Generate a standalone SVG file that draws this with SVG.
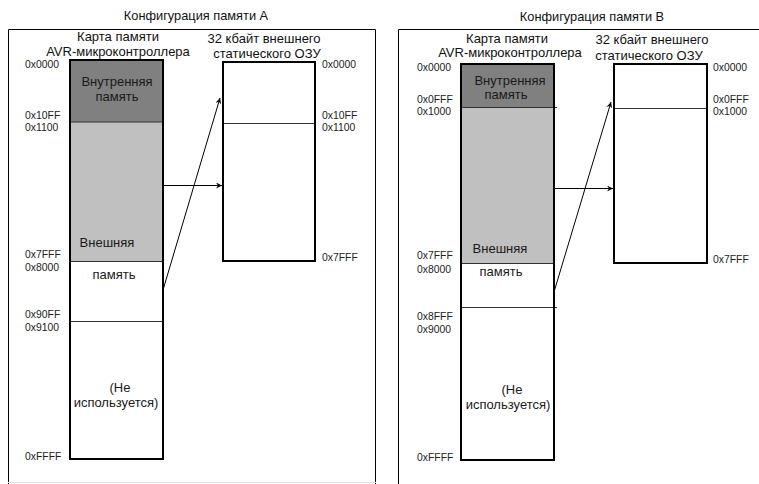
<svg xmlns="http://www.w3.org/2000/svg" width="759" height="484" viewBox="0 0 759 484">
<style>
text{font-family:"Liberation Sans",Arial,sans-serif;fill:#111}
.t{font-size:12.8px;text-anchor:middle}
.h{font-size:13px;text-anchor:middle}
.a{font-size:10.4px;fill:#222}
.b{font-size:13px;text-anchor:middle;fill:#1a1a1a}
.frame{fill:none;stroke:#000;stroke-width:1}
.box{fill:none;stroke:#000;stroke-width:2}
.div{stroke:#333;stroke-width:1}
.con{stroke:#000;stroke-width:1;fill:none;marker-end:url(#ah)}
</style>
<defs>
<marker id="ah" markerWidth="8" markerHeight="8" refX="6" refY="3" orient="auto" markerUnits="userSpaceOnUse">
<path d="M0,0 L6,3 L0,6 L2,3 Z" fill="#000"/>
</marker>
</defs>
<rect width="759" height="484" fill="#fff"/>

<g id="panelA">
<text class="t" x="196" y="20">Конфигурация памяти А</text>
<path class="frame" d="M8.5,490 V29.5 H375.5 V490"/>
<line x1="8" y1="482.5" x2="376" y2="482.5" stroke="#e4e4e4"/>
</g>

<g id="avrA">
<text class="h" x="118" y="40.5">Карта памяти</text>
<text class="h" x="118" y="55.5">AVR-микроконтроллера</text>
<rect x="70" y="60" width="93" height="62" fill="#808080"/>
<rect x="70" y="122" width="93" height="139" fill="#c0c0c0"/>
<line class="div" x1="70" y1="122" x2="163" y2="122"/>
<line class="div" x1="70" y1="261.5" x2="163" y2="261.5"/>
<line class="div" x1="70" y1="321.5" x2="163" y2="321.5"/>
<rect class="box" x="70" y="60" width="93" height="399"/>
<text class="b" x="117" y="86">Внутренняя</text>
<text class="b" x="117" y="101">память</text>
<text class="b" x="107" y="247">Внешняя</text>
<text class="b" x="114" y="279">память</text>
<text class="b" x="120" y="392">(Не</text>
<text class="b" x="116" y="407">используется)</text>
<text class="a" x="25" y="68">0x0000</text>
<text class="a" x="25" y="119">0x10FF</text>
<text class="a" x="25" y="131">0x1100</text>
<text class="a" x="25" y="258">0x7FFF</text>
<text class="a" x="25" y="271">0x8000</text>
<text class="a" x="25" y="318">0x90FF</text>
<text class="a" x="25" y="331">0x9100</text>
<text class="a" x="25" y="460">0xFFFF</text>
</g>

<g id="sramA">
<text class="h" x="264" y="43">32 кбайт внешнего</text>
<text class="h" x="267" y="58">статического ОЗУ</text>
<line class="div" x1="223" y1="123.5" x2="315" y2="123.5"/>
<rect class="box" x="223" y="62" width="92" height="199"/>
<text class="a" x="322" y="68">0x0000</text>
<text class="a" x="322" y="119">0x10FF</text>
<text class="a" x="322" y="131">0x1100</text>
<text class="a" x="322" y="261">0x7FFF</text>
</g>

<g id="panelB">
<text class="t" x="592" y="21">Конфигурация памяти В</text>
<path class="frame" d="M398.5,490 V29.5 H770"/>
</g>

<g id="avrB">
<text class="h" x="507" y="43">Карта памяти</text>
<text class="h" x="510" y="57">AVR-микроконтроллера</text>
<rect x="461" y="64" width="93" height="43" fill="#808080"/>
<rect x="461" y="107" width="93" height="156" fill="#c0c0c0"/>
<line class="div" x1="461" y1="107.5" x2="557" y2="107.5"/>
<line class="div" x1="461" y1="263.5" x2="554" y2="263.5"/>
<line class="div" x1="461" y1="307.5" x2="557" y2="307.5"/>
<rect class="box" x="461" y="64" width="93" height="396"/>
<text class="b" x="510" y="85">Внутренняя</text>
<text class="b" x="506" y="99">память</text>
<text class="b" x="500" y="253">Внешняя</text>
<text class="b" x="501" y="276">память</text>
<text class="b" x="512" y="394">(Не</text>
<text class="b" x="508" y="409">используется)</text>
<text class="a" x="417" y="71">0x0000</text>
<text class="a" x="417" y="103">0x0FFF</text>
<text class="a" x="417" y="115">0x1000</text>
<text class="a" x="417" y="259">0x7FFF</text>
<text class="a" x="417" y="273">0x8000</text>
<text class="a" x="417" y="320">0x8FFF</text>
<text class="a" x="417" y="333">0x9000</text>
<text class="a" x="417" y="461">0xFFFF</text>
</g>

<g id="sramB">
<text class="h" x="652" y="44">32 кбайт внешнего</text>
<text class="h" x="649" y="60">статического ОЗУ</text>
<line class="div" x1="614" y1="108.5" x2="707" y2="108.5"/>
<rect class="box" x="614" y="64" width="93" height="199"/>
<text class="a" x="713" y="71">0x0000</text>
<text class="a" x="713" y="103">0x0FFF</text>
<text class="a" x="713" y="115">0x1000</text>
<text class="a" x="713" y="263">0x7FFF</text>
</g>

<g id="connectors">
<line class="con" x1="163" y1="185.5" x2="222" y2="185.5"/>
<line class="con" x1="163" y1="290" x2="220" y2="98"/>
<line class="con" x1="554" y1="188.5" x2="613" y2="188.5"/>
<line class="con" x1="554" y1="292" x2="611" y2="102"/>
</g>
</svg>
